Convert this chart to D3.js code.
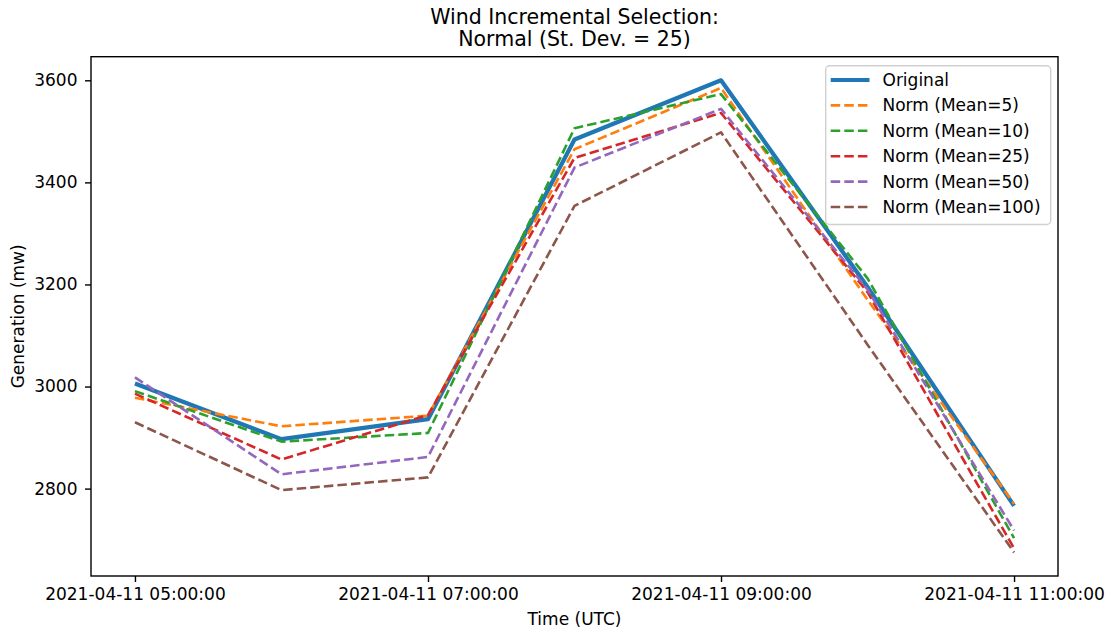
<!DOCTYPE html>
<html>
<head>
<meta charset="utf-8">
<script src="https://cdn.jsdelivr.net/npm/d3@7"></script>
<style>
  body { margin: 0; background: #fff; }
  svg text { font-family: "DejaVu Sans", sans-serif; fill: #000; }
</style>
</head>
<body>
<div id="chart"></div>
<script>
// hourly timestamps (UTC)
const times = ["2021-04-11T05:00:00Z", "2021-04-11T06:00:00Z", "2021-04-11T07:00:00Z",
               "2021-04-11T08:00:00Z", "2021-04-11T09:00:00Z", "2021-04-11T10:00:00Z",
               "2021-04-11T11:00:00Z"];

const seriesNames = ["Original", "Norm (Mean=5)", "Norm (Mean=10)", "Norm (Mean=25)",
                     "Norm (Mean=50)", "Norm (Mean=100)"];

const original = [3006, 2897, 2936, 3484, 3600, 3195, 2766];
const mean5    = [2978, 2922, 2943, 3465, 3585, 3170, 2770];
const mean10   = [2991, 2892, 2909, 3506, 3573, 3212, 2703];
const mean25   = [2986, 2857, 2944, 3448, 3536, 3185, 2683];
const mean50   = [3018, 2828, 2862, 3429, 3544, 3190, 2718];
const mean100  = [2930, 2797, 2822, 3354, 3498, 3082, 2675];

const xTicks = ["2021-04-11T05:00:00Z", "2021-04-11T07:00:00Z",
                "2021-04-11T09:00:00Z", "2021-04-11T11:00:00Z"];
const yTicks = [2800, 3000, 3200, 3400, 3600];

const colors = ["#1f77b4", "#ff7f0e", "#2ca02c", "#d62728", "#9467bd", "#8c564b"];

const chart = {
    "width": 1112,
    "height": 632,
    "left": 91,
    "right": 1058,
    "top": 56.7,
    "bottom": 576
};

let dates = times.map(d => new Date(d));
let allValues = [original, mean5, mean10, mean25, mean50, mean100];
let series = seriesNames.map((name, i) => ({
    name: name,
    color: colors[i],
    values: allValues[i].map((v, j) => ({ t: dates[j], v: v }))
}));

// matplotlib style 5% margins
let tMin = d3.min(dates), tMax = d3.max(dates);
let tPad = (tMax - tMin) * 0.05;
let vMin = d3.min(allValues.flat()), vMax = d3.max(allValues.flat());
let vPad = (vMax - vMin) * 0.05;

let xScale = d3.scaleUtc()
    .domain([new Date(+tMin - tPad), new Date(+tMax + tPad)])
    .range([chart.left, chart.right]);

let yScale = d3.scaleLinear()
    .domain([vMin - vPad, vMax + vPad])
    .range([chart.bottom, chart.top]);

let svg = d3.select('#chart')
    .append('svg')
    .attr('width', chart.width)
    .attr('height', chart.height);

// Title
svg.append('text')
    .attr('x', (chart.left + chart.right) / 2)
    .attr('y', 23.5)
    .attr('text-anchor', 'middle')
    .style('font-size', '20.5px')
    .text('Wind Incremental Selection:');

svg.append('text')
    .attr('x', (chart.left + chart.right) / 2)
    .attr('y', 46)
    .attr('text-anchor', 'middle')
    .style('font-size', '20.5px')
    .text('Normal (St. Dev. = 25)');

// Lines
let line = d3.line()
    .x(d => xScale(d.t))
    .y(d => yScale(d.v));

svg.append('g')
    .attr('id', 'lines')
    .selectAll('path')
    .data(series)
    .join('path')
        .attr('d', d => line(d.values))
        .attr('fill', 'none')
        .attr('stroke', d => d.color)
        .attr('stroke-width', (d, i) => i === 0 ? 4.2 : 2.6)
        .attr('stroke-dasharray', (d, i) => i === 0 ? null : '9.5,4.1')
        .attr('stroke-linejoin', 'round');

// Axes
let fmt = d3.utcFormat('%Y-%m-%d %H:%M:%S');

let xAxis = d3.axisBottom(xScale)
    .tickValues(xTicks.map(d => new Date(d)))
    .tickFormat(fmt)
    .tickSize(6)
    .tickPadding(6);

let yAxis = d3.axisLeft(yScale)
    .tickValues(yTicks)
    .tickFormat(d3.format('d'))
    .tickSize(6)
    .tickPadding(7.5);

let xg = svg.append('g')
    .attr('transform', `translate(0, ${chart.bottom})`)
    .call(xAxis);
xg.select('.domain').remove();

let yg = svg.append('g')
    .attr('transform', `translate(${chart.left}, 0)`)
    .call(yAxis);
yg.select('.domain').remove();

svg.selectAll('.tick line').attr('stroke', '#000').attr('stroke-width', 1.4);
svg.selectAll('.tick text')
    .style('font-family', '"DejaVu Sans", sans-serif')
    .style('font-size', '17px');

// Frame
svg.append('rect')
    .attr('x', chart.left)
    .attr('y', chart.top)
    .attr('width', chart.right - chart.left)
    .attr('height', chart.bottom - chart.top)
    .attr('fill', 'none')
    .attr('stroke', '#000')
    .attr('stroke-width', 1.4);

// Axis labels
svg.append('text')
    .attr('x', (chart.left + chart.right) / 2)
    .attr('y', 625)
    .attr('text-anchor', 'middle')
    .style('font-size', '17px')
    .text('Time (UTC)');

svg.append('text')
    .attr('transform', `translate(24, ${(chart.top + chart.bottom) / 2}) rotate(-90)`)
    .attr('text-anchor', 'middle')
    .style('font-size', '17px')
    .text('Generation (mw)');

// Legend
let legend = svg.append('g')
    .attr('transform', 'translate(825.7, 65.7)');

legend.append('rect')
    .attr('width', 225)
    .attr('height', 158.8)
    .attr('rx', 4)
    .attr('fill', '#fff')
    .attr('fill-opacity', 0.8)
    .attr('stroke', '#d0d0d0')
    .attr('stroke-width', 1.4);

let rows = legend.selectAll('.legend-row')
    .data(series)
    .join('g')
        .attr('class', 'legend-row')
        .attr('transform', (d, i) => `translate(0, ${14.3 + i * 25.4})`);

rows.append('line')
    .attr('x1', 5)
    .attr('x2', 43.8)
    .attr('stroke', d => d.color)
    .attr('stroke-width', (d, i) => i === 0 ? 4.2 : 2.6)
    .attr('stroke-dasharray', (d, i) => i === 0 ? null : '9.5,4.1');

rows.append('text')
    .attr('x', 56.8)
    .attr('dy', '0.35em')
    .style('font-size', '17px')
    .text(d => d.name);
</script>
</body>
</html>
